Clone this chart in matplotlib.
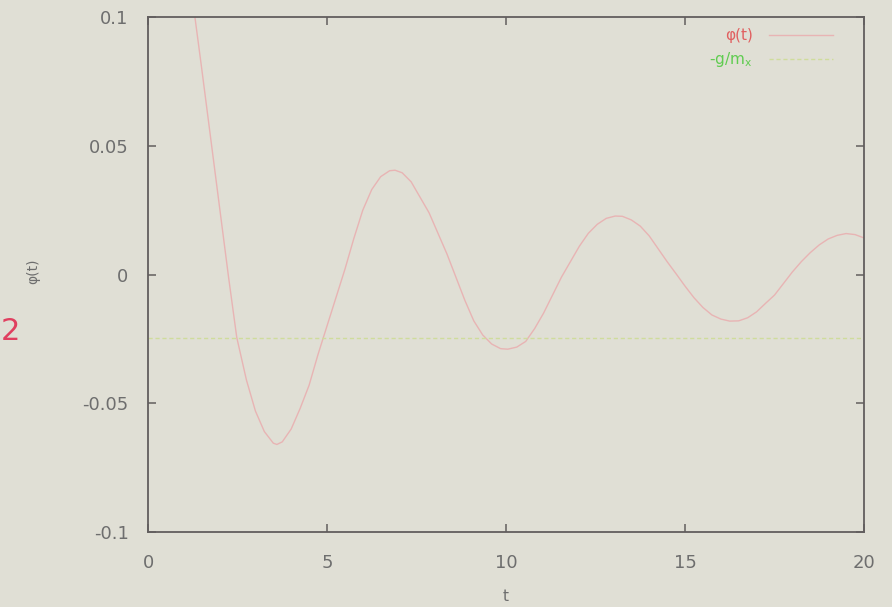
import matplotlib
matplotlib.use("Agg")
import matplotlib.pyplot as plt

# data
t_vals = [1.31, 1.50, 1.75, 2.00, 2.25, 2.48, 2.75, 3.00, 3.25, 3.50, 3.60, 3.75,
          4.00, 4.25, 4.50, 4.75, 5.00, 5.25, 5.50, 5.75, 6.00, 6.25, 6.50, 6.75,
          6.90, 7.10, 7.35, 7.60, 7.85, 8.10, 8.35, 8.60, 8.85, 9.10, 9.35, 9.60,
          9.85, 10.05, 10.30, 10.55, 10.80, 11.05, 11.30, 11.55, 11.80, 12.05,
          12.30, 12.55, 12.80, 13.05, 13.25, 13.50, 13.75, 14.00, 14.25, 14.50,
          14.75, 15.00, 15.25, 15.50, 15.75, 16.00, 16.25, 16.50, 16.75, 17.00,
          17.25, 17.50, 17.75, 18.00, 18.25, 18.50, 18.75, 19.00, 19.25, 19.50,
          19.75, 20.00]
phi_vals = [0.100, 0.080, 0.053, 0.026, -0.001, -0.0245, -0.041, -0.053, -0.061,
            -0.0655, -0.066, -0.065, -0.060, -0.052, -0.043, -0.031, -0.020,
            -0.009, 0.002, 0.014, 0.025, 0.033, 0.038, 0.0403, 0.0405, 0.0395,
            0.036, 0.030, 0.024, 0.016, 0.008, -0.001, -0.010, -0.018, -0.0235,
            -0.027, -0.0288, -0.029, -0.0282, -0.026, -0.021, -0.015, -0.008,
            -0.001, 0.005, 0.011, 0.016, 0.0195, 0.0218, 0.0227, 0.0226, 0.0212,
            0.0188, 0.015, 0.010, 0.005, 0.0003, -0.0045, -0.009, -0.0128,
            -0.0157, -0.0173, -0.0181, -0.018, -0.0168, -0.0145, -0.0112, -0.008,
            -0.0035, 0.001, 0.005, 0.0085, 0.0115, 0.0138, 0.0152, 0.0159,
            0.0155, 0.0142]
g_level = -0.0245
x_ticks = [0, 5, 10, 15, 20]
y_ticks = [-0.1, -0.05, 0, 0.05, 0.1]
y_tick_labels = ["-0.1", "-0.05", "0", "0.05", "0.1"]
legend_labels = ["φ(t)", r"-g/m$_\mathregular{x}$"]

bg = "#e0dfd5"
axis_col = "#625e5e"
text_col = "#6e6e6e"

plt.rcParams['font.family'] = ['DejaVu Sans']

fig = plt.figure(figsize=(8.92, 6.07), dpi=100, facecolor=bg)
ax = fig.add_axes([148/892, 1 - 532/607, (864-148)/892, (532-17)/607])
ax.set_facecolor(bg)

ax.plot(t_vals, phi_vals, color="#e8b4b4", lw=1.0, label=legend_labels[0])
ax.plot([0, 20], [g_level, g_level], color="#cfdc9c", lw=1.0,
        linestyle=(0, (3, 2)), label=legend_labels[1])

ax.set_xlim(0, 20)
ax.set_ylim(-0.1, 0.1)
ax.set_xticks(x_ticks)
ax.set_xticklabels([str(v) for v in x_ticks])
ax.set_yticks(y_ticks)
ax.set_yticklabels(y_tick_labels)

for s in ax.spines.values():
    s.set_color(axis_col)
    s.set_linewidth(1.3)

ax.tick_params(direction="in", length=6, width=1.1, color=axis_col,
               top=True, right=True, labelsize=13, labelcolor=text_col)
ax.tick_params(axis="x", pad=16)
ax.tick_params(axis="y", pad=14)

ax.set_xlabel("t", fontsize=11, color=text_col, labelpad=12)
fig.text(33/892, 1 - 271/607, "φ(t)", rotation=90, fontsize=10,
         color=text_col, ha="center", va="center")
fig.text(1/892, 1 - 332/607, "2", fontsize=22, color="#e04060",
         ha="left", va="center")

leg = ax.legend(loc="upper right", bbox_to_anchor=(1 - 25/716, 1 - 5/515),
                frameon=False, markerfirst=False, fontsize=11,
                handlelength=4.2, handletextpad=1.05, labelspacing=0.45,
                borderaxespad=0.0)
for txt, c in zip(leg.get_texts(), ["#e06060", "#60cc50"]):
    txt.set_color(c)

fig.savefig("out.png", dpi=100, facecolor=bg)
